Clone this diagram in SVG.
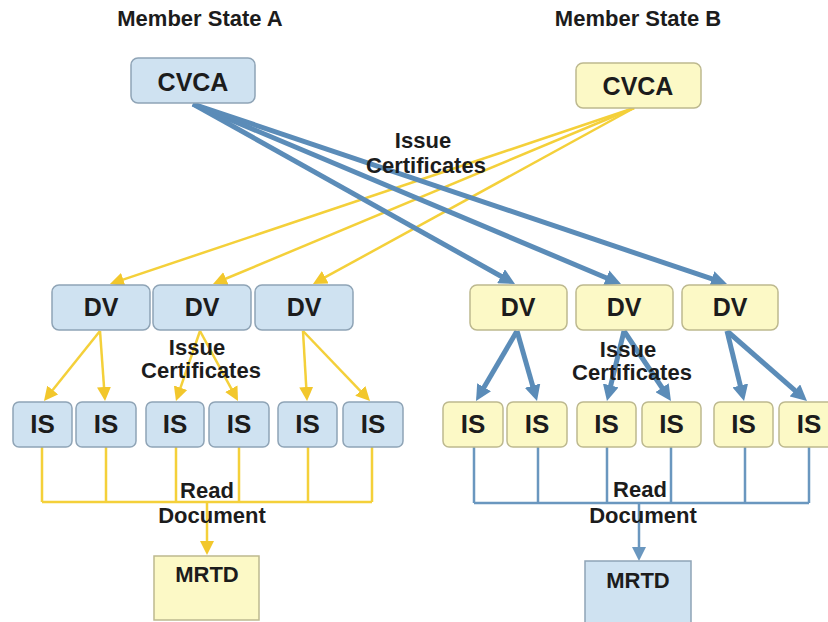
<svg xmlns="http://www.w3.org/2000/svg" width="828" height="622" viewBox="0 0 828 622">
<style>
text{font-family:"Liberation Sans",Arial,sans-serif;font-weight:bold;fill:#1c1c1c;text-anchor:middle}
.t{font-size:22px}
.n{font-size:25px}
.i{font-size:26px}
.bl rect{fill:#cfe2f1;stroke:#8fa4b6;stroke-width:1.5}
.ye rect{fill:#fcf9c6;stroke:#bdb98f;stroke-width:1.5}
.yl{stroke:#f4d03a;stroke-width:2.5;fill:none}
.bt{stroke:#5b8cb8;stroke-width:5;fill:none}
.bn{stroke:#6a97bf;stroke-width:2.5;fill:none}
.ya{marker-end:url(#ay)}
.ba{marker-end:url(#ab)}
</style>
<defs>
<marker id="ay" viewBox="0 0 14 14" refX="1" refY="7" markerWidth="14" markerHeight="14" markerUnits="userSpaceOnUse" orient="auto"><path d="M0,0 L14,7 L0,14 z" fill="#f2c72c"/></marker>
<marker id="ab" viewBox="0 0 16 16" refX="1" refY="8" markerWidth="16" markerHeight="16" markerUnits="userSpaceOnUse" orient="auto"><path d="M0,0 L16,8 L0,16 z" fill="#5b8cb8"/></marker>
<marker id="abs" viewBox="0 0 14 14" refX="1" refY="7" markerWidth="14" markerHeight="14" markerUnits="userSpaceOnUse" orient="auto"><path d="M0,0 L14,7 L0,14 z" fill="#6a97bf"/></marker>
</defs>

<g id="titles">
<text class="t" x="200" y="26">Member State A</text>
<text class="t" x="638" y="26">Member State B</text>
</g>

<g id="connectors">
<!-- CVCA B to DV A (yellow) -->
<line class="yl ya" x1="634" y1="108" x2="122.3" y2="279.9"/>
<line class="yl ya" x1="634" y1="108" x2="225" y2="279"/>
<line class="yl ya" x1="634" y1="108" x2="324.4" y2="277.7"/>
<!-- CVCA A to DV B (blue) -->
<line class="bt ba" x1="193" y1="104" x2="501.9" y2="276.7"/>
<line class="bt ba" x1="193" y1="104" x2="607.2" y2="278.2"/>
<line class="bt ba" x1="193" y1="104" x2="712.8" y2="279.2"/>
<!-- DV A to IS A -->
<line class="yl ya" x1="100" y1="331" x2="52.1" y2="390.8"/>
<line class="yl ya" x1="100" y1="331" x2="104.1" y2="388"/>
<line class="yl ya" x1="200" y1="331" x2="180.2" y2="388.7"/>
<line class="yl ya" x1="200" y1="331" x2="231.8" y2="389.6"/>
<line class="yl ya" x1="303" y1="331" x2="306.3" y2="388"/>
<line class="yl ya" x1="303" y1="331" x2="361" y2="391.6"/>
<!-- DV B to IS B -->
<line class="bt ba" x1="517" y1="331" x2="483.6" y2="388.1"/>
<line class="bt ba" x1="517" y1="331" x2="532.9" y2="386.6"/>
<line class="bt ba" x1="624" y1="331" x2="610.5" y2="386.4"/>
<line class="bt ba" x1="624" y1="331" x2="662.6" y2="388.5"/>
<line class="bt ba" x1="727" y1="331" x2="740.5" y2="386.4"/>
<line class="bt ba" x1="727" y1="331" x2="795.7" y2="391.1"/>
<!-- IS A to MRTD A -->
<path class="yl" d="M42,447 V502 M106,447 V502 M176,447 V502 M239,447 V502 M308,447 V502 M372,447 V502 M42,502 H372"/>
<line class="yl ya" x1="207" y1="502" x2="207" y2="542"/>
<!-- IS B to MRTD B -->
<path class="bn" d="M474,447 V503 M538,447 V503 M607,447 V503 M671,447 V503 M745,447 V503 M809,447 V503 M474,503 H809"/>
<line class="bn" x1="639" y1="503" x2="639" y2="548" marker-end="url(#abs)"/>
</g>

<g id="cvca-a" class="bl"><rect x="131" y="58" width="124" height="45" rx="7"/><text class="n" x="193" y="91">CVCA</text></g>
<g id="cvca-b" class="ye"><rect x="576" y="63" width="125" height="45" rx="7"/><text class="n" x="638" y="95">CVCA</text></g>

<g id="dv-a1" class="bl"><rect x="52" y="285" width="98" height="45" rx="7"/><text class="n" x="101" y="316">DV</text></g>
<g id="dv-a2" class="bl"><rect x="153" y="285" width="98" height="45" rx="7"/><text class="n" x="202" y="316">DV</text></g>
<g id="dv-a3" class="bl"><rect x="255" y="285" width="98" height="45" rx="7"/><text class="n" x="304" y="316">DV</text></g>
<g id="dv-b1" class="ye"><rect x="470" y="285" width="97" height="45" rx="7"/><text class="n" x="518" y="316">DV</text></g>
<g id="dv-b2" class="ye"><rect x="576" y="285" width="97" height="45" rx="7"/><text class="n" x="624" y="316">DV</text></g>
<g id="dv-b3" class="ye"><rect x="682" y="285" width="96" height="45" rx="7"/><text class="n" x="730" y="316">DV</text></g>

<g id="is-a1" class="bl"><rect x="13" y="402" width="59" height="45" rx="6"/><text class="i" x="42.5" y="433">IS</text></g>
<g id="is-a2" class="bl"><rect x="76" y="402" width="60" height="45" rx="6"/><text class="i" x="106" y="433">IS</text></g>
<g id="is-a3" class="bl"><rect x="146" y="402" width="58" height="45" rx="6"/><text class="i" x="175" y="433">IS</text></g>
<g id="is-a4" class="bl"><rect x="209" y="402" width="60" height="45" rx="6"/><text class="i" x="239" y="433">IS</text></g>
<g id="is-a5" class="bl"><rect x="278" y="402" width="59" height="45" rx="6"/><text class="i" x="307.5" y="433">IS</text></g>
<g id="is-a6" class="bl"><rect x="343" y="402" width="60" height="45" rx="6"/><text class="i" x="373" y="433">IS</text></g>
<g id="is-b1" class="ye"><rect x="443" y="402" width="60" height="45" rx="6"/><text class="i" x="473" y="433">IS</text></g>
<g id="is-b2" class="ye"><rect x="507" y="402" width="60" height="45" rx="6"/><text class="i" x="537" y="433">IS</text></g>
<g id="is-b3" class="ye"><rect x="577" y="402" width="59" height="45" rx="6"/><text class="i" x="606.5" y="433">IS</text></g>
<g id="is-b4" class="ye"><rect x="642" y="402" width="59" height="45" rx="6"/><text class="i" x="671.5" y="433">IS</text></g>
<g id="is-b5" class="ye"><rect x="714" y="402" width="59" height="45" rx="6"/><text class="i" x="743.5" y="433">IS</text></g>
<g id="is-b6" class="ye"><rect x="779" y="402" width="60" height="45" rx="6"/><text class="i" x="809" y="433">IS</text></g>

<g id="mrtd-a" class="ye"><rect x="154" y="556" width="105" height="64" rx="0"/><text class="t" x="207" y="582">MRTD</text></g>
<g id="mrtd-b" class="bl"><rect x="585" y="561" width="106" height="70" rx="0"/><text class="t" x="638" y="588">MRTD</text></g>

<g id="labels">
<text class="t" x="423" y="148">Issue</text>
<text class="t" x="426" y="173">Certificates</text>
<text class="t" x="197" y="355">Issue</text>
<text class="t" x="201" y="378">Certificates</text>
<text class="t" x="628" y="357">Issue</text>
<text class="t" x="632" y="380">Certificates</text>
<text class="t" x="207" y="498">Read</text>
<text class="t" x="212" y="523">Document</text>
<text class="t" x="640" y="497">Read</text>
<text class="t" x="643" y="523">Document</text>
</g>
</svg>
